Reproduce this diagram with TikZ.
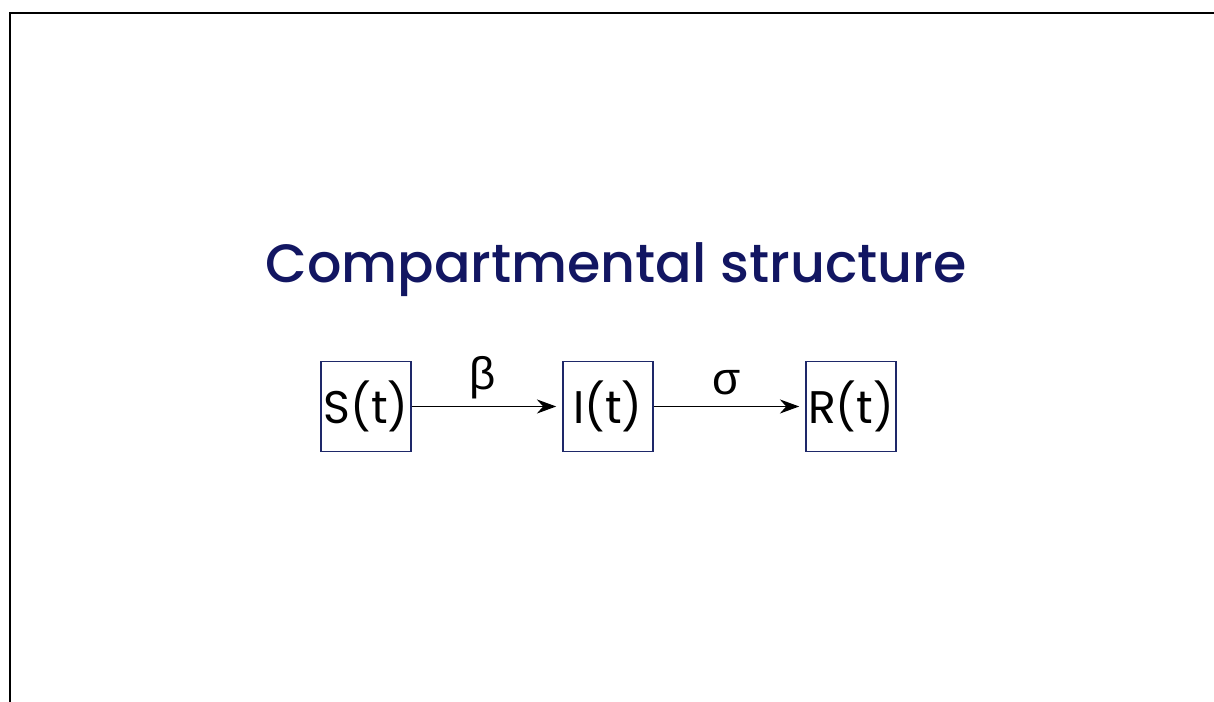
\documentclass[tikz,border=0pt]{standalone}
\usepackage{fontspec}
\setmainfont{Poppins}
\newfontfamily\mediumfont{Poppins Medium}
\newfontfamily\greekfont{Liberation Sans}
\usepackage{tikz}
\usetikzlibrary{arrows.meta,positioning}
\definecolor{sirnavy}{RGB}{18,22,98}
\definecolor{sirbox}{RGB}{30,40,105}

\begin{document}
\begin{tikzpicture}[x=0.02cm,y=0.02cm,
    compartment/.style={draw=sirbox,line width=0.9pt,minimum width=1.8cm,minimum height=1.8cm,inner sep=0pt,font=\fontsize{26}{28}\selectfont},
    flow/.style={-{Stealth[length=11pt,width=8pt]},line width=1.1pt,shorten >=0.12cm},
    rate/.style={font=\greekfont\fontsize{26}{28}\selectfont}]
    \useasboundingbox (0,0) rectangle (1214,702);
    \fill[white] (0,0) rectangle (1214,702);
    \draw[line width=1.6pt] (10,0) -- (10,689) -- (1214,689);
    \node[anchor=base,text=sirnavy,font=\mediumfont\fontsize{30.7}{34}\selectfont] (title) at (616,419) {Compartmental structure};
    \node[compartment] (s) at (366,295.5) {S(t)};
    \node[compartment] (i) at (608,295.5) {I(t)};
    \node[compartment] (r) at (851,295.5) {R(t)};
    \draw[flow] (s) -- (i);
    \draw[flow] (i) -- (r);
    \node[rate] (beta) at (483,324) {β};
    \node[rate] (sigma) at (727,319) {σ};
  \end{tikzpicture}
\end{document}
